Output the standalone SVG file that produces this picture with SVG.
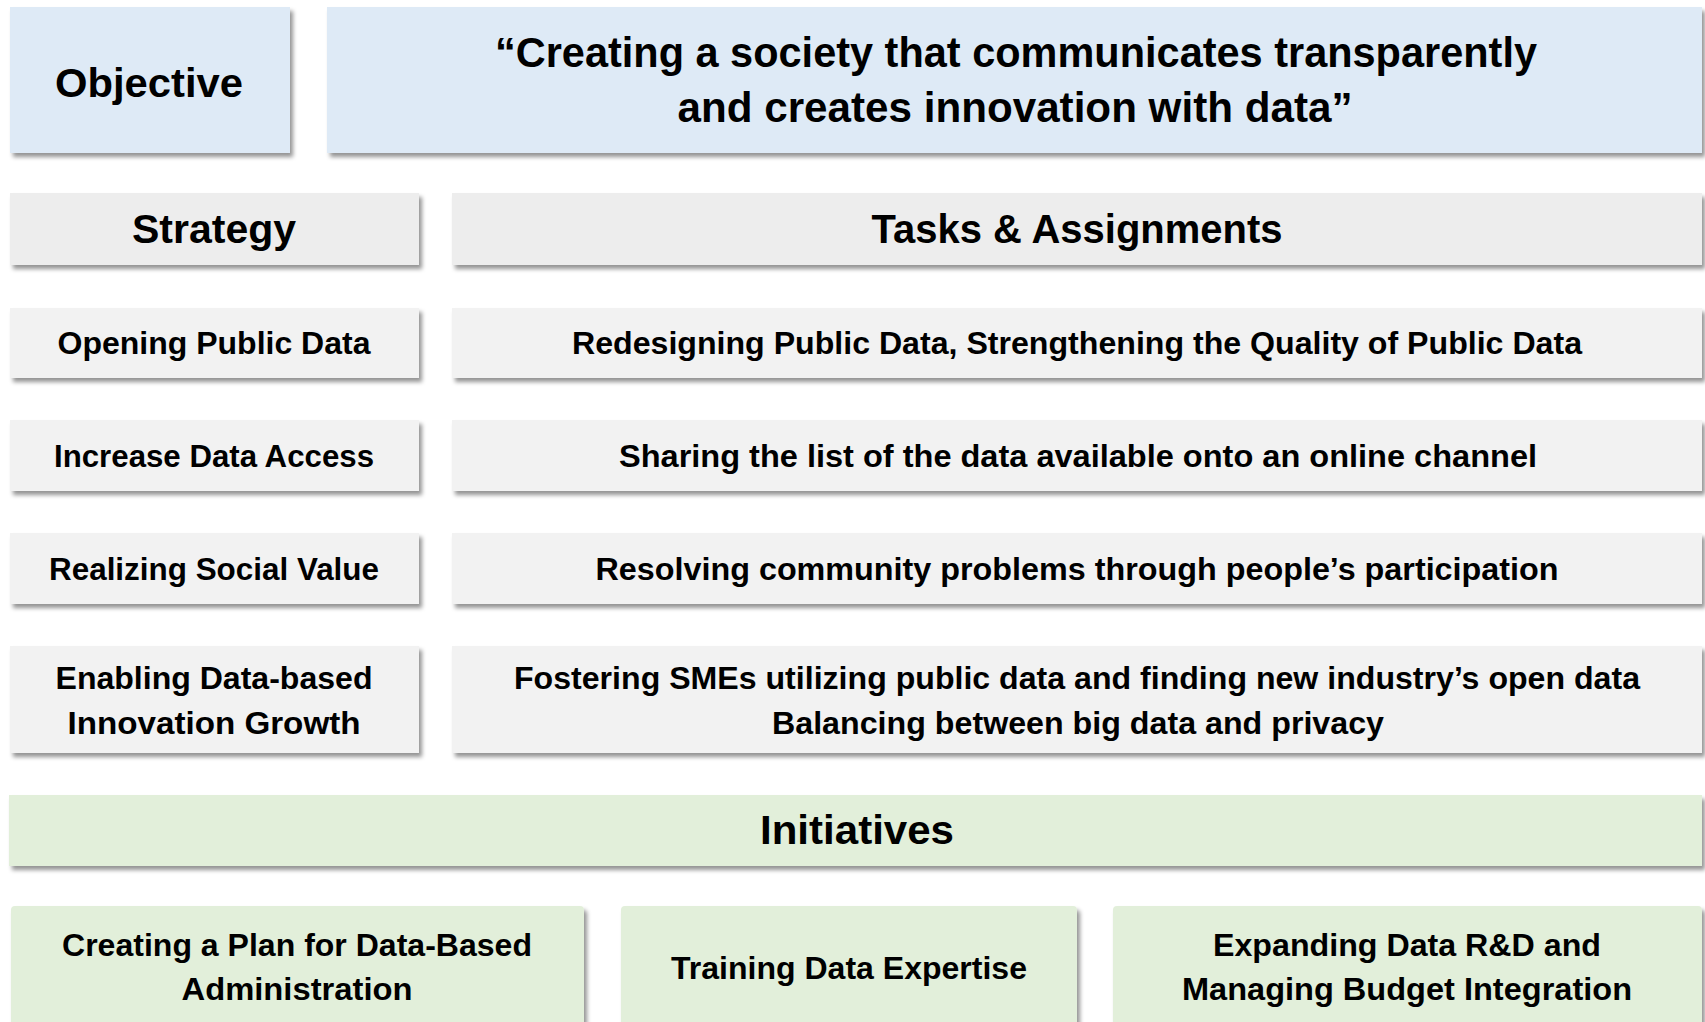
<svg xmlns="http://www.w3.org/2000/svg" width="1705" height="1022" viewBox="0 0 1705 1022">
  <defs>
    <filter id="sh" x="-5%" y="-20%" width="110%" height="150%">
      <feDropShadow dx="3" dy="4" stdDeviation="2.2" flood-color="#000" flood-opacity="0.42"/>
    </filter>
  </defs>
  <style>
    .blue { fill: #DEEAF6; filter: url(#sh); }
    .head { fill: #EDEDED; filter: url(#sh); }
    .row { fill: #F2F2F2; filter: url(#sh); }
    .green { fill: #E2EFDA; filter: url(#sh); }
    text { font-family: "Liberation Sans", Arial, sans-serif; font-weight: bold; fill: #000; text-anchor: middle; }
    .t42 { font-size: 42px; }
    .t41 { font-size: 41px; }
    .t32 { font-size: 32px; }
  </style>
  <rect width="1705" height="1022" fill="#FFFFFF"/>

  <g id="objective-label">
    <rect class="blue" x="10" y="7" width="280" height="146"/>
    <text class="t41" x="149" y="97" textLength="188" lengthAdjust="spacingAndGlyphs">Objective</text>
  </g>
  <g id="objective-text">
    <rect class="blue" x="327" y="7" width="1375" height="146"/>
    <text class="t42" x="1016" y="67" textLength="1042" lengthAdjust="spacingAndGlyphs">“Creating a society that communicates transparently</text>
    <text class="t42" x="1015" y="122" textLength="675" lengthAdjust="spacingAndGlyphs">and creates innovation with data”</text>
  </g>

  <g id="strategy-header">
    <rect class="head" x="10" y="193" width="409" height="72"/>
    <text class="t41" x="214" y="243" textLength="164" lengthAdjust="spacingAndGlyphs">Strategy</text>
  </g>
  <g id="tasks-header">
    <rect class="head" x="452" y="193" width="1250" height="72"/>
    <text class="t41" x="1077" y="243" textLength="411" lengthAdjust="spacingAndGlyphs">Tasks &amp; Assignments</text>
  </g>

  <g id="strategy-1">
    <rect class="row" x="10" y="308" width="409" height="70"/>
    <text class="t32" x="214" y="354" textLength="313" lengthAdjust="spacingAndGlyphs">Opening Public Data</text>
  </g>
  <g id="task-1">
    <rect class="row" x="452" y="308" width="1250" height="70"/>
    <text class="t32" x="1077" y="354" textLength="1010" lengthAdjust="spacingAndGlyphs">Redesigning Public Data, Strengthening the Quality of Public Data</text>
  </g>

  <g id="strategy-2">
    <rect class="row" x="10" y="420" width="409" height="71"/>
    <text class="t32" x="214" y="467" textLength="320" lengthAdjust="spacingAndGlyphs">Increase Data Access</text>
  </g>
  <g id="task-2">
    <rect class="row" x="452" y="420" width="1250" height="71"/>
    <text class="t32" x="1078" y="467" textLength="918" lengthAdjust="spacingAndGlyphs">Sharing the list of the data available onto an online channel</text>
  </g>

  <g id="strategy-3">
    <rect class="row" x="10" y="533" width="409" height="71"/>
    <text class="t32" x="214" y="580" textLength="330" lengthAdjust="spacingAndGlyphs">Realizing Social Value</text>
  </g>
  <g id="task-3">
    <rect class="row" x="452" y="533" width="1250" height="71"/>
    <text class="t32" x="1077" y="580" textLength="963" lengthAdjust="spacingAndGlyphs">Resolving community problems through people’s participation</text>
  </g>

  <g id="strategy-4">
    <rect class="row" x="10" y="646" width="409" height="107"/>
    <text class="t32" x="214" y="689" textLength="317" lengthAdjust="spacingAndGlyphs">Enabling Data-based</text>
    <text class="t32" x="214" y="734" textLength="293" lengthAdjust="spacingAndGlyphs">Innovation Growth</text>
  </g>
  <g id="task-4">
    <rect class="row" x="452" y="646" width="1250" height="107"/>
    <text class="t32" x="1077" y="689" textLength="1126" lengthAdjust="spacingAndGlyphs">Fostering SMEs utilizing public data and finding new industry’s open data</text>
    <text class="t32" x="1078" y="734" textLength="612" lengthAdjust="spacingAndGlyphs">Balancing between big data and privacy</text>
  </g>

  <g id="initiatives-header">
    <rect class="green" x="9" y="795" width="1693" height="71"/>
    <text class="t41" x="857" y="844" textLength="194" lengthAdjust="spacingAndGlyphs">Initiatives</text>
  </g>

  <g id="initiative-1">
    <rect class="green" x="11" y="906" width="573" height="140" rx="4"/>
    <text class="t32" x="297" y="956" textLength="470" lengthAdjust="spacingAndGlyphs">Creating a Plan for Data-Based</text>
    <text class="t32" x="297" y="1000" textLength="231" lengthAdjust="spacingAndGlyphs">Administration</text>
  </g>
  <g id="initiative-2">
    <rect class="green" x="621" y="906" width="456" height="140" rx="4"/>
    <text class="t32" x="849" y="979" textLength="356" lengthAdjust="spacingAndGlyphs">Training Data Expertise</text>
  </g>
  <g id="initiative-3">
    <rect class="green" x="1113" y="906" width="589" height="140" rx="4"/>
    <text class="t32" x="1407" y="956" textLength="388" lengthAdjust="spacingAndGlyphs">Expanding Data R&amp;D and</text>
    <text class="t32" x="1407" y="1000" textLength="450" lengthAdjust="spacingAndGlyphs">Managing Budget Integration</text>
  </g>

  <g id="connectors"/>
</svg>
